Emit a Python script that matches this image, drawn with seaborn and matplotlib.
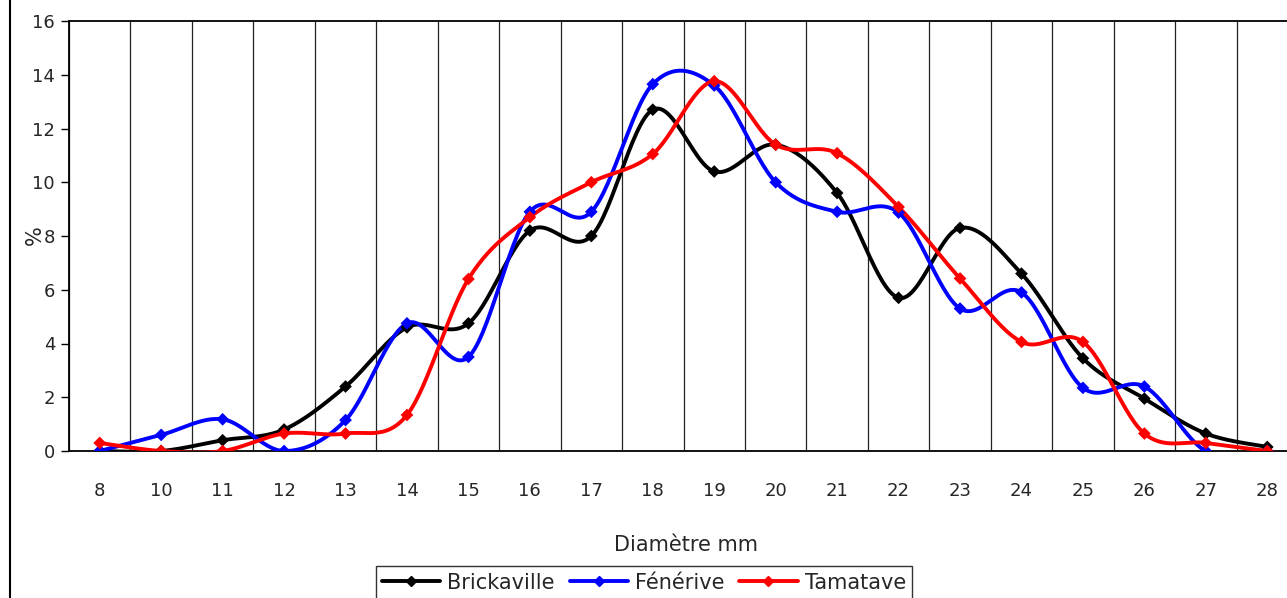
import numpy as np
import pandas as pd
import matplotlib
matplotlib.use("Agg")
import matplotlib.pyplot as plt
from matplotlib.lines import Line2D
import seaborn as sns

categories = ["8", "10", "11", "12", "13", "14", "15", "16", "17", "18",
              "19", "20", "21", "22", "23", "24", "25", "26", "27", "28"]
brickaville = [0.0, 0.0, 0.4, 0.8, 2.4, 4.6, 4.75, 8.2, 8.0, 12.7,
               10.4, 11.4, 9.6, 5.7, 8.3, 6.6, 3.45, 1.95, 0.65, 0.15]
fenerive = [0.0, 0.6, 1.18, 0.0, 1.15, 4.75, 3.5, 8.9, 8.9, 13.65,
            13.6, 10.0, 8.9, 8.87, 5.3, 5.9, 2.35, 2.4, 0.0, 0.0]
tamatave = [0.3, 0.0, 0.0, 0.65, 0.65, 1.34, 6.4, 8.7, 10.0, 11.05,
            13.76, 11.4, 11.08, 9.08, 6.42, 4.06, 4.06, 0.65, 0.3, 0.0]
series_names = ["Brickaville", "Fénérive", "Tamatave"]
series_values = [brickaville, fenerive, tamatave]
colors = ["#000000", "#0000FF", "#FF0000"]

sns.set_theme(style="white")
plt.rcParams["font.family"] = ["DejaVu Sans"]


def catmull_rom(xs, ys, n=30):
    xs = np.asarray(xs, float)
    ys = np.asarray(ys, float)
    px = np.concatenate([[xs[0]], xs, [xs[-1]]])
    py = np.concatenate([[ys[0]], ys, [ys[-1]]])
    outx, outy = [], []
    for i in range(1, len(px) - 2):
        x0, x1, x2, x3 = px[i - 1], px[i], px[i + 1], px[i + 2]
        y0, y1, y2, y3 = py[i - 1], py[i], py[i + 1], py[i + 2]
        # Bezier control points (Excel-like smoothing)
        c1x, c1y = x1 + (x2 - x0) / 6, y1 + (y2 - y0) / 6
        c2x, c2y = x2 - (x3 - x1) / 6, y2 - (y3 - y1) / 6
        t = np.linspace(0, 1, n, endpoint=(i == len(px) - 3))
        b0 = (1 - t) ** 3
        b1 = 3 * (1 - t) ** 2 * t
        b2 = 3 * (1 - t) * t ** 2
        b3 = t ** 3
        outx.append(b0 * x1 + b1 * c1x + b2 * c2x + b3 * x2)
        outy.append(b0 * y1 + b1 * c1y + b2 * c2y + b3 * y2)
    return np.concatenate(outx), np.concatenate(outy)


pos = np.arange(len(categories))
rows = []
pts = []
for name, vals in zip(series_names, series_values):
    sx, sy = catmull_rom(pos, vals)
    rows.append(pd.DataFrame({"x": sx, "y": sy, "series": name, "order": np.arange(len(sx))}))
    pts.append(pd.DataFrame({"x": pos, "y": vals, "series": name}))
smooth = pd.concat(rows, ignore_index=True)
points = pd.concat(pts, ignore_index=True)

W, H = 1287, 598
fig = plt.figure(figsize=(W / 100, H / 100), dpi=100)
fig.patch.set_facecolor("white")
left, right, top, bottom = 69, 1298, 21, 451
ax = fig.add_axes([left / W, 1 - bottom / H, (right - left) / W, (bottom - top) / H])

palette = dict(zip(series_names, colors))
sns.lineplot(data=smooth, x="x", y="y", hue="series", units="series", estimator=None,
             sort=False, palette=palette, linewidth=2.8, legend=False, ax=ax, zorder=3)
sns.scatterplot(data=points, x="x", y="y", hue="series", palette=palette, marker="D",
                s=42, linewidth=0, legend=False, ax=ax, zorder=4)

ax.set_xlim(-0.5, len(categories) - 0.5)
ax.set_ylim(0, 16)
ax.set_yticks(np.arange(0, 17, 2))
ax.set_yticklabels([str(v) for v in range(0, 17, 2)], fontsize=13)
ax.set_xticks(pos)
ax.set_xticklabels(categories, fontsize=13)
ax.set_xticks(np.arange(-0.5, len(categories), 1), minor=True)
ax.tick_params(axis="x", which="major", length=0, pad=22)
ax.tick_params(axis="x", which="minor", direction="inout", length=10, width=1, color="black")
ax.tick_params(axis="y", which="major", direction="out", length=6, width=1, color="black", left=True, pad=4)
ax.grid(False)
ax.xaxis.grid(True, which="minor", color="#222222", linewidth=0.9)
ax.set_axisbelow(True)
for s in ["left", "top", "bottom"]:
    ax.spines[s].set_color("black")
    ax.spines[s].set_linewidth(1.3)
ax.spines["right"].set_visible(False)
ax.set_xlabel("")
ax.set_ylabel("")

fig.text(686 / W, 1 - 545 / H, "Diamètre mm", ha="center", va="center", fontsize=15)
fig.text(35 / W, 1 - 235 / H, "%", ha="center", va="center", fontsize=15, rotation=90)

# chart-area frame line on the left
fig.add_artist(Line2D([9.5 / W, 9.5 / W], [0, 1], color="black", linewidth=1.5))

handles = [Line2D([0], [0], color=c, linewidth=2.8, marker="D", markersize=5) for c in colors]
leg = fig.legend(handles, series_names, loc="upper center", bbox_to_anchor=(644 / W, 1 - 556 / H),
                 ncol=3, frameon=True, fontsize=15, handlelength=2.8, handletextpad=0.35,
                 columnspacing=0.7, borderpad=0.3, fancybox=False, edgecolor="black")
leg.get_frame().set_linewidth(1.0)

fig.savefig("out.png", dpi=100, facecolor="white")
